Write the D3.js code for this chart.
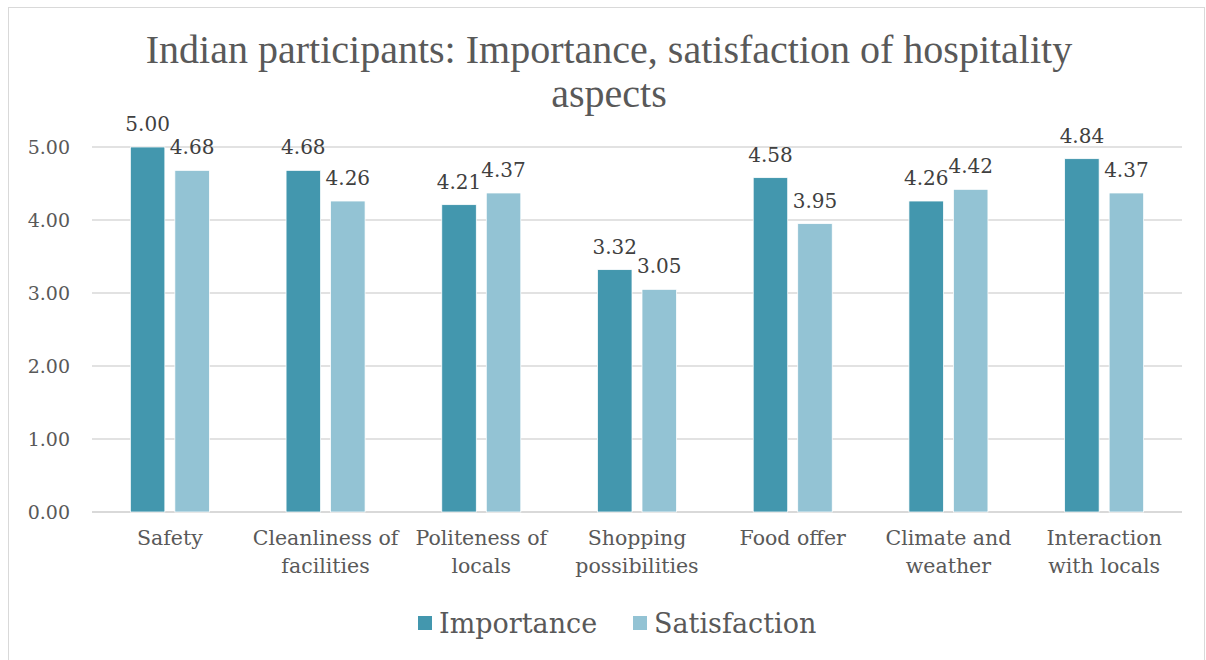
<!DOCTYPE html>
<meta charset="utf-8">
<html>
  <head>
    <script src="https://cdn.jsdelivr.net/npm/d3@7"></script>
    <style>
      body { margin: 0; background: white; }
      text { font-family: "DejaVu Serif", serif; }
    </style>
  </head>
  <body>
    <div id="chart"></div>
    <script>
      const categories = [
        ["Safety"],
        ["Cleanliness of", "facilities"],
        ["Politeness of", "locals"],
        ["Shopping", "possibilities"],
        ["Food offer"],
        ["Climate and", "weather"],
        ["Interaction", "with locals"]
      ];
      const importance = [5.00, 4.68, 4.21, 3.32, 4.58, 4.26, 4.84];
      const satisfaction = [4.68, 4.26, 4.37, 3.05, 3.95, 4.42, 4.37];
      const seriesNames = ["Importance", "Satisfaction"];
      const yTicks = [0, 1, 2, 3, 4, 5];
      const colors = ["#4397ae", "#93c3d4"];

      const width = 1206, height = 660;
      const margin = {top: 147, right: 24, bottom: 148, left: 92};

      const svg = d3.select("#chart").append("svg")
        .attr("width", width)
        .attr("height", height);

      // chart frame
      svg.append("rect")
        .attr("x", 8.5).attr("y", 7.5)
        .attr("width", width - 10).attr("height", height)
        .attr("fill", "none")
        .attr("stroke", "#d9d9d9");

      const x0 = d3.scaleBand()
        .domain(d3.range(categories.length))
        .range([margin.left, width - margin.right]);

      const x1 = d3.scaleBand()
        .domain(seriesNames)
        .range([0, 79])
        .paddingInner(0.225);

      const y = d3.scaleLinear()
        .domain([0, 5])
        .range([height - margin.bottom, margin.top]);

      // gridlines
      svg.append("g")
        .selectAll("line")
        .data(yTicks)
        .join("line")
        .attr("x1", margin.left)
        .attr("x2", width - margin.right)
        .attr("y1", d => y(d))
        .attr("y2", d => y(d))
        .attr("stroke", "#d9d9d9")
        .attr("stroke-width", d => d === 0 ? 2 : 1.5);

      // y tick labels
      svg.append("g")
        .selectAll("text")
        .data(yTicks)
        .join("text")
        .attr("x", 70)
        .attr("y", d => y(d))
        .attr("dy", "0.35em")
        .attr("text-anchor", "end")
        .attr("fill", "#595959")
        .style("font-size", "19px")
        .text(d => d.toFixed(2));

      const rows = categories.map((c, i) => ({
        i: i,
        values: [importance[i], satisfaction[i]]
      }));

      const groups = svg.append("g")
        .selectAll("g")
        .data(rows)
        .join("g")
        .attr("transform", d => `translate(${x0(d.i) + (x0.bandwidth() - 79) / 2},0)`);

      groups.selectAll("rect")
        .data(d => d.values.map((v, k) => ({name: seriesNames[k], value: v, k: k})))
        .join("rect")
        .attr("x", d => x1(d.name))
        .attr("y", d => y(d.value))
        .attr("width", x1.bandwidth())
        .attr("height", d => y(0) - y(d.value))
        .attr("fill", d => colors[d.k])
        .attr("stroke", "#ffffff")
        .attr("stroke-width", 0.75);

      groups.selectAll("text.val")
        .data(d => d.values.map((v, k) => ({name: seriesNames[k], value: v})))
        .join("text")
        .attr("class", "val")
        .attr("x", d => x1(d.name) + x1.bandwidth() / 2)
        .attr("y", d => y(d.value) - 16)
        .attr("text-anchor", "middle")
        .attr("fill", "#404040")
        .style("font-size", "20px")
        .text(d => d.value.toFixed(2));

      // category labels
      const catLabels = svg.append("g")
        .selectAll("text")
        .data(categories)
        .join("text")
        .attr("x", (d, i) => x0(i) + x0.bandwidth() / 2)
        .attr("y", 545)
        .attr("text-anchor", "middle")
        .attr("fill", "#595959")
        .style("font-size", "20.5px");
      catLabels.selectAll("tspan")
        .data(d => d)
        .join("tspan")
        .attr("x", function () { return this.parentNode.getAttribute("x"); })
        .attr("dy", (d, i) => i === 0 ? 0 : 28)
        .text(d => d);

      // title
      const title = svg.append("text")
        .attr("x", 609)
        .attr("text-anchor", "middle")
        .attr("fill", "#595959")
        .style("font-family", "'Liberation Serif', serif")
        .style("font-size", "40px");
      title.append("tspan").attr("x", 609).attr("y", 63)
        .text("Indian participants: Importance, satisfaction of hospitality");
      title.append("tspan").attr("x", 609).attr("y", 107)
        .text("aspects");

      // legend
      const legendX = [418, 633];
      const legend = svg.append("g")
        .selectAll("g")
        .data(seriesNames)
        .join("g")
        .attr("transform", (d, i) => `translate(${legendX[i]},616)`);
      legend.append("rect")
        .attr("width", 14).attr("height", 14)
        .attr("fill", (d, i) => colors[i]);
      legend.append("text")
        .attr("x", 21)
        .attr("y", 7)
        .attr("dy", "0.36em")
        .attr("fill", "#595959")
        .style("font-size", "27px")
        .text(d => d);
    </script>
  </body>
</html>
